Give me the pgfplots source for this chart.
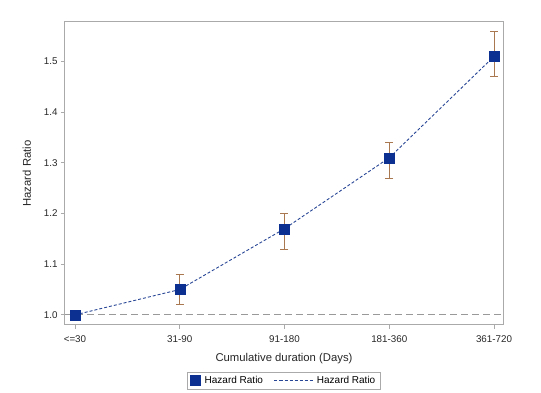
\documentclass[border=0pt]{standalone}
\usepackage{pgfplots}
\pgfplotsset{compat=1.18}
\usepackage{fontspec}
\setmainfont{Liberation Sans}
\definecolor{mk}{RGB}{12,48,145}
\definecolor{ln}{RGB}{40,70,150}
\definecolor{eb}{RGB}{170,120,80}
\definecolor{ax}{RGB}{170,170,170}
\begin{document}
\begin{tikzpicture}[x=1pt,y=1pt]
\useasboundingbox (0,0) rectangle (541,393);
\begin{axis}[
  at={(65pt,68pt)}, anchor=south west,
  scale only axis, width=438pt, height=303pt,
  xmin=-0.095, xmax=4.086, ymin=0.980, ymax=1.578,
  xtick={0,1,2,3,4},
  xticklabels={{<=30},{31-90},{91-180},{181-360},{361-720}},
  ytick={1.0,1.1,1.2,1.3,1.4,1.5},
  yticklabel style={/pgf/number format/.cd,fixed,fixed zerofill,precision=1},
  /pgf/number format/assume math mode=true,
  tick align=outside, tick pos=left,
  major tick length=4pt,
  axis line style={ax, line width=1pt},
  every tick/.style={ax, line width=0.8pt},
  ticklabel style={font=\fontsize{9.8}{11}\selectfont, text=black!85},
  xticklabel style={yshift=-3pt},
  xlabel={Cumulative duration (Days)},
  ylabel={Hazard Ratio},
  label style={font=\fontsize{11.3}{13}\selectfont, text=black!85},
  xlabel style={yshift=-4pt},
  ylabel style={yshift=6pt},
  legend columns=2,
  legend style={at={(0.5,-0.155)}, anchor=north, draw=ax, line width=0.8pt,
    font=\fontsize{10}{11}\selectfont, inner xsep=3pt, inner ysep=2pt,
    /tikz/every even column/.append style={column sep=9pt},
    /tikz/every odd column/.append style={column sep=2pt}},
  legend cell align=left,
  clip=false,
]
\addplot[ax!90!black, line width=0.8pt, dash pattern=on 7pt off 4pt, forget plot]
  coordinates {(-0.095,1.0) (4.086,1.0)};
\addplot[ln, line width=0.9pt, dash pattern=on 3pt off 2pt, forget plot]
  coordinates {(0,1.00) (1,1.05) (2,1.17) (3,1.31) (4,1.51)};
\addplot[only marks, mark=square*, mark size=5pt, mk,
  mark options={fill=mk, draw=mk},
  error bars/.cd, y dir=both, y explicit,
  error bar style={eb, line width=0.9pt},
  error mark options={eb, mark size=4pt, line width=0.9pt, rotate=90}]
  coordinates {
    (0,1.00) +- (0,0)
    (1,1.05) += (0,0.03) -= (0,0.03)
    (2,1.17) += (0,0.03) -= (0,0.04)
    (3,1.31) += (0,0.03) -= (0,0.04)
    (4,1.51) += (0,0.05) -= (0,0.04)
  };
\addlegendentry{Hazard Ratio}
\addlegendimage{legend image code/.code={\draw[ln, line width=0.9pt, dash pattern=on 3pt off 2pt] (0pt,0pt) -- (38pt,0pt);}}
\addlegendentry{Hazard Ratio}
\end{axis}
\end{tikzpicture}
\end{document}
